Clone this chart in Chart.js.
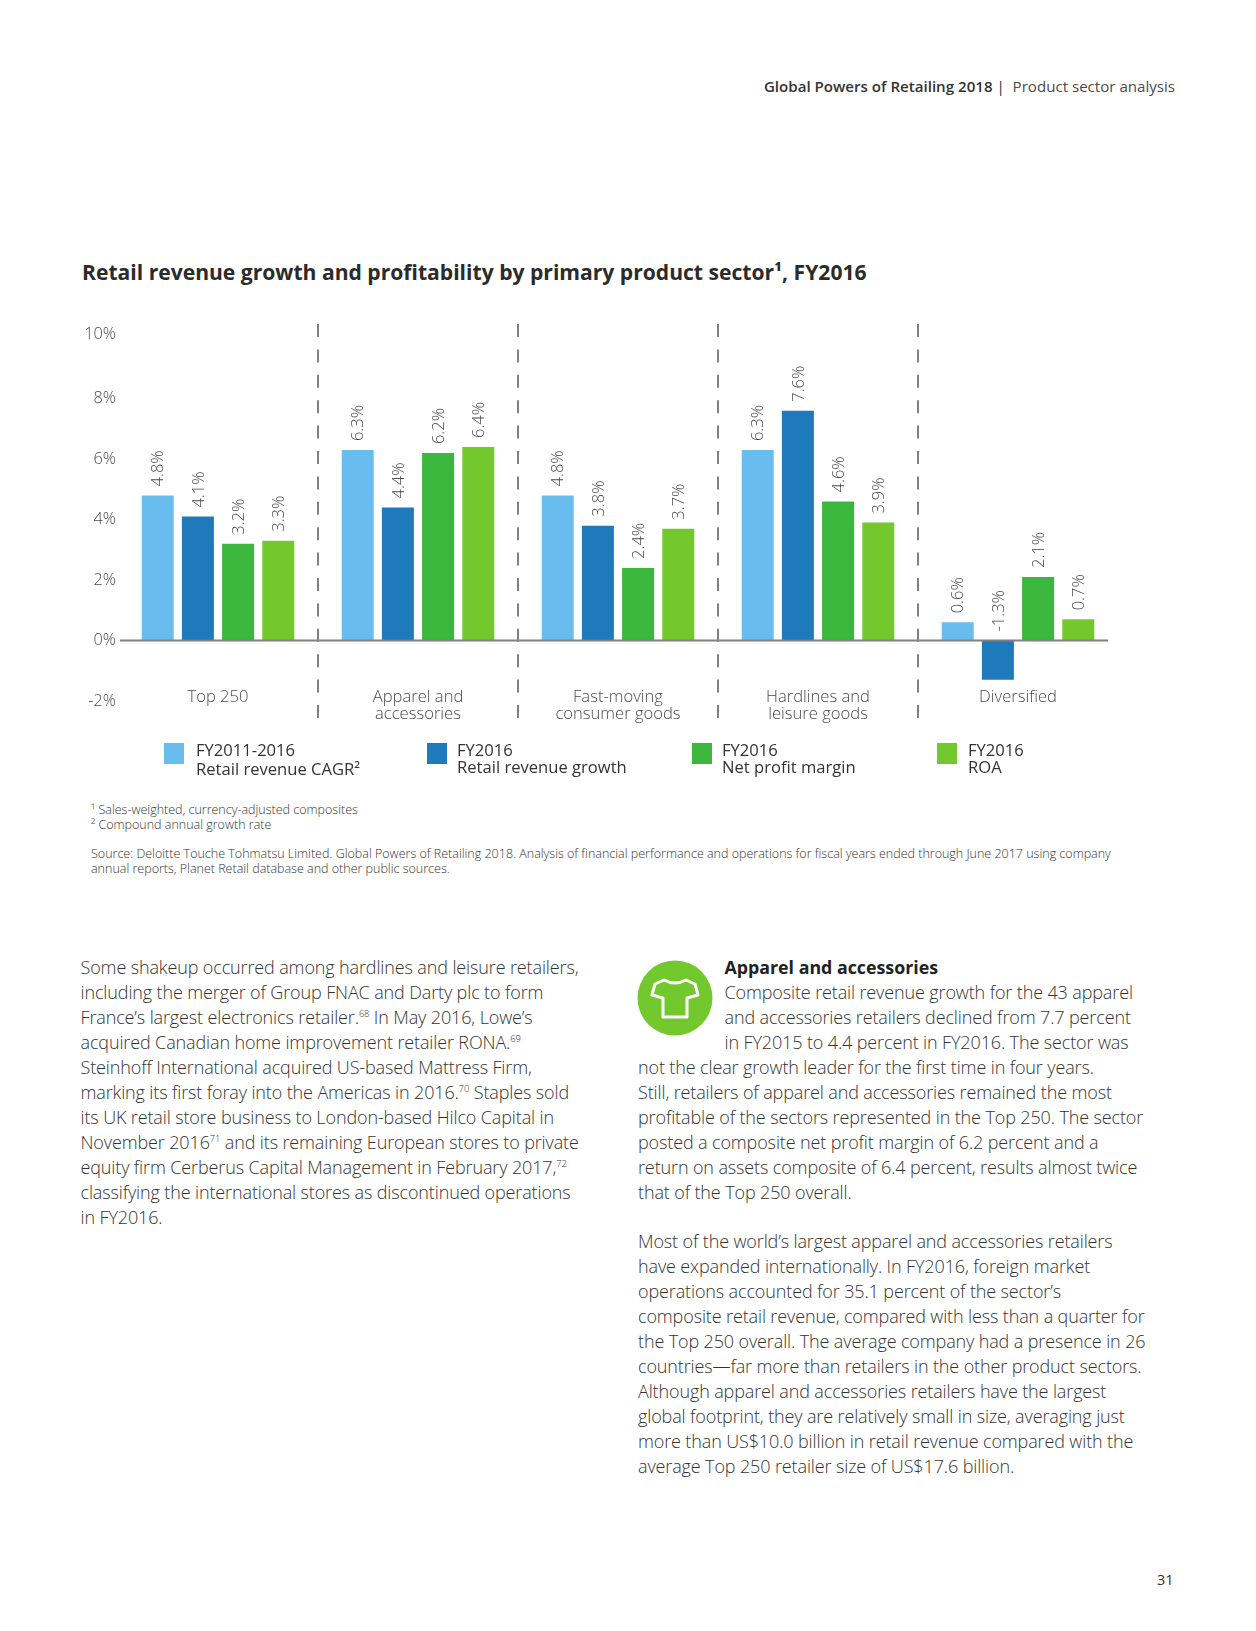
<!DOCTYPE html>
<html>
<head>
<meta charset="utf-8">
<title>Retail revenue growth and profitability</title>
<script src="https://cdn.jsdelivr.net/npm/chart.js@4"></script>
<style>
  html, body { margin: 0; padding: 0; background: #fff; }
  body { width: 1256px; height: 1631px; position: relative; overflow: hidden; font-family: "Open Sans", sans-serif; color: #4a4a4a; }
  .t { position: absolute; white-space: nowrap; transform: translateY(-50%); }
  .body { font-size: 18px; font-weight: 300; color: #333; letter-spacing: -0.13px; }
  .note { font-size: 12.5px; font-weight: 300; color: #333; }
  .leg { font-size: 16.6px; color: #333; }
  .sw { position: absolute; width: 20px; height: 21px; }
  canvas { position: absolute; left: 0; top: 300px; }
  sup { font-size: 52%; line-height: 0; }
</style>
</head>
<body>
<canvas id="chart" width="1118" height="440"></canvas>
<svg style="position:absolute;left:637px;top:960px" width="76" height="76" viewBox="0 0 76 76">
  <circle cx="38" cy="38" r="37.5" fill="#72c82c"/>
  <path d="M27 20 L18 24 L15 35 L26 38 L26 57 L50 57 L50 38 L61 35 L58 24 L49 20 Q38 26 27 20 Z" fill="none" stroke="#fff" stroke-width="3" stroke-linejoin="round"/>
</svg>
<script>
const categories = [["Top 250"], ["Apparel and", "accessories"], ["Fast-moving", "consumer goods"], ["Hardlines and", "leisure goods"], ["Diversified"]];
// the 10% label sits a little high in the original, floor() in the callback prints it as 10%
const tickValues = [-2, 0, 2, 4, 6, 8, 10.14];
const cagr = [4.8, 6.3, 4.8, 6.3, 0.6];
const revenueGrowth = [4.1, 4.4, 3.8, 7.6, -1.3];
const netProfit = [3.2, 6.2, 2.4, 4.6, 2.1];
const roa = [3.3, 6.4, 3.7, 3.9, 0.7];
const seriesNames = ["FY2011-2016 Retail revenue CAGR²", "FY2016 Retail revenue growth", "FY2016 Net profit margin", "FY2016 ROA"];
const seriesColors = ["#68bdee", "#1f7abc", "#3bb73d", "#72c82c"];

const legendItems = [
  { x: 164, tx: 196, l1: "FY2011-2016", l2: "Retail revenue CAGR²", y2: 768 },
  { x: 427, tx: 457, l1: "FY2016", l2: "Retail revenue growth", y2: 766 },
  { x: 692, tx: 722, l1: "FY2016", l2: "Net profit margin", y2: 766 },
  { x: 937, tx: 968, l1: "FY2016", l2: "ROA", y2: 766 }
];
const leftLines = [
  "Some shakeup occurred among hardlines and leisure retailers,",
  "including the merger of Group FNAC and Darty plc to form",
  "France’s largest electronics retailer.<sup>68</sup> In May 2016, Lowe’s",
  "acquired Canadian home improvement retailer RONA.<sup>69</sup>",
  "Steinhoff International acquired US-based Mattress Firm,",
  "marking its first foray into the Americas in 2016.<sup>70</sup> Staples sold",
  "its UK retail store business to London-based Hilco Capital in",
  "November 2016<sup>71</sup> and its remaining European stores to private",
  "equity firm Cerberus Capital Management in February 2017,<sup>72</sup>",
  "classifying the international stores as discontinued operations",
  "in FY2016."
];
const rightTop = [
  "Composite retail revenue growth for the 43 apparel",
  "and accessories retailers declined from 7.7 percent",
  "in FY2015 to 4.4 percent in FY2016. The sector was"
];
const rightLines = [
  "not the clear growth leader for the first time in four years.",
  "Still, retailers of apparel and accessories remained the most",
  "profitable of the sectors represented in the Top 250. The sector",
  "posted a composite net profit margin of 6.2 percent and a",
  "return on assets composite of 6.4 percent, results almost twice",
  "that of the Top 250 overall."
];
const rightLines2 = [
  "Most of the world’s largest apparel and accessories retailers",
  "have expanded internationally. In FY2016, foreign market",
  "operations accounted for 35.1 percent of the sector’s",
  "composite retail revenue, compared with less than a quarter for",
  "the Top 250 overall. The average company had a presence in 26",
  "countries—far more than retailers in the other product sectors.",
  "Although apparel and accessories retailers have the largest",
  "global footprint, they are relatively small in size, averaging just",
  "more than US$10.0 billion in retail revenue compared with the",
  "average Top 250 retailer size of US$17.6 billion."
];

function addText(html, x, y, cls, style) {
  let d = document.createElement("div");
  d.className = "t " + (cls || "");
  d.innerHTML = html;
  d.style.left = x + "px";
  d.style.top = y + "px";
  if (style) d.style.cssText += style;
  document.body.appendChild(d);
  return d;
}

// page header and title
addText('<span style="font-weight:600;color:#333">Global Powers of Retailing 2018</span> <span style="color:#333">|</span>&nbsp; Product sector analysis', 0, 86, "", "font-size:15.1px;left:auto;right:81px;");
addText("Retail revenue growth and profitability by primary product sector¹, FY2016", 82, 271, "", "font-size:21.1px;font-weight:700;color:#2b2b2b;");

// legend
legendItems.forEach((e, i) => {
  let s = document.createElement("div");
  s.className = "sw";
  s.style.left = e.x + "px";
  s.style.top = "743px";
  s.style.background = seriesColors[i];
  document.body.appendChild(s);
  addText(e.l1, e.tx, 749, "leg");
  addText(e.l2, e.tx, e.y2, "leg");
});

// notes
addText("¹ Sales-weighted, currency-adjusted composites", 91, 809, "note");
addText("² Compound annual growth rate", 91, 824, "note");
addText("Source: Deloitte Touche Tohmatsu Limited. Global Powers of Retailing 2018. Analysis of financial performance and operations for fiscal years ended through June 2017 using company", 91, 853, "note");
addText("annual reports, Planet Retail database and other public sources.", 91, 868, "note");

// body text
leftLines.forEach((l, i) => addText(l, 80.5, 967 + i * 25, "body"));
addText("Apparel and accessories", 724.5, 967, "", "font-size:17.8px;font-weight:700;color:#222;");
rightTop.forEach((l, i) => addText(l, 724.5, 992 + i * 25, "body"));
rightLines.forEach((l, i) => addText(l, 638, 1067 + i * 25, "body"));
rightLines2.forEach((l, i) => addText(l, 638, 1241 + i * 25, "body"));
addText("31", 1157, 1579, "", "font-size:14.5px;color:#333;");

const valueLabels = {
  id: "valueLabels",
  afterDatasetsDraw(chart) {
    const ctx = chart.ctx;
    const zero = chart.scales.y.getPixelForValue(0);
    ctx.save();
    ctx.font = '300 16.5px "Open Sans"';
    ctx.fillStyle = "#4a4a4a";
    ctx.textAlign = "left";
    ctx.textBaseline = "middle";
    chart.data.datasets.forEach((ds, i) => {
      chart.getDatasetMeta(i).data.forEach((bar, j) => {
        let base = ds.data[j] < 0 ? zero : bar.y;
        ctx.save();
        ctx.translate(bar.x + 1, base - 9);
        ctx.rotate(-Math.PI / 2);
        ctx.fillText(ds.data[j].toFixed(1) + "%", 0, 0);
        ctx.restore();
      });
    });
    // axis line at zero
    ctx.strokeStyle = "#808080";
    ctx.lineWidth = 2;
    ctx.beginPath();
    ctx.moveTo(chart.chartArea.left + 2, zero);
    ctx.lineTo(chart.chartArea.right - 10, zero);
    ctx.stroke();
    ctx.restore();
  }
};

new Chart(document.getElementById("chart"), {
  type: "bar",
  data: {
    labels: categories,
    datasets: [cagr, revenueGrowth, netProfit, roa].map((d, i) => ({
      label: seriesNames[i],
      data: d,
      backgroundColor: seriesColors[i],
      categoryPercentage: 0.804,
      barPercentage: 0.796
    }))
  },
  options: {
    responsive: false,
    animation: false,
    layout: { padding: { top: 24, bottom: 20, left: 0, right: 0 } },
    plugins: { legend: { display: false }, tooltip: { enabled: false }, title: { display: false } },
    scales: {
      x: {
        position: { y: -1.6 },
        border: { display: false, dash: [13, 12.4] },
        grid: {
          offset: true,
          drawTicks: false,
          lineWidth: 2,
          color: c => (c.index > 0 && c.index < categories.length) ? "#808080" : "transparent"
        },
        ticks: {
          padding: 0,
          autoSkip: false,
          maxRotation: 0,
          color: "#4a4a4a",
          font: { family: "Open Sans", size: 16.6, weight: 300, lineHeight: 1.02 }
        }
      },
      y: {
        min: -2.63,
        max: 10.47,
        afterBuildTicks: s => { s.ticks = tickValues.map(v => ({ value: v })); },
        afterFit: s => { s.width = 118; },
        border: { display: false },
        grid: { display: false, drawTicks: false },
        ticks: {
          padding: 2,
          color: "#4a4a4a",
          font: { family: "Open Sans", size: 16.3, weight: 300 },
          callback: v => Math.floor(v) + "%"
        }
      }
    }
  },
  plugins: [valueLabels]
});
</script>
</body>
</html>
